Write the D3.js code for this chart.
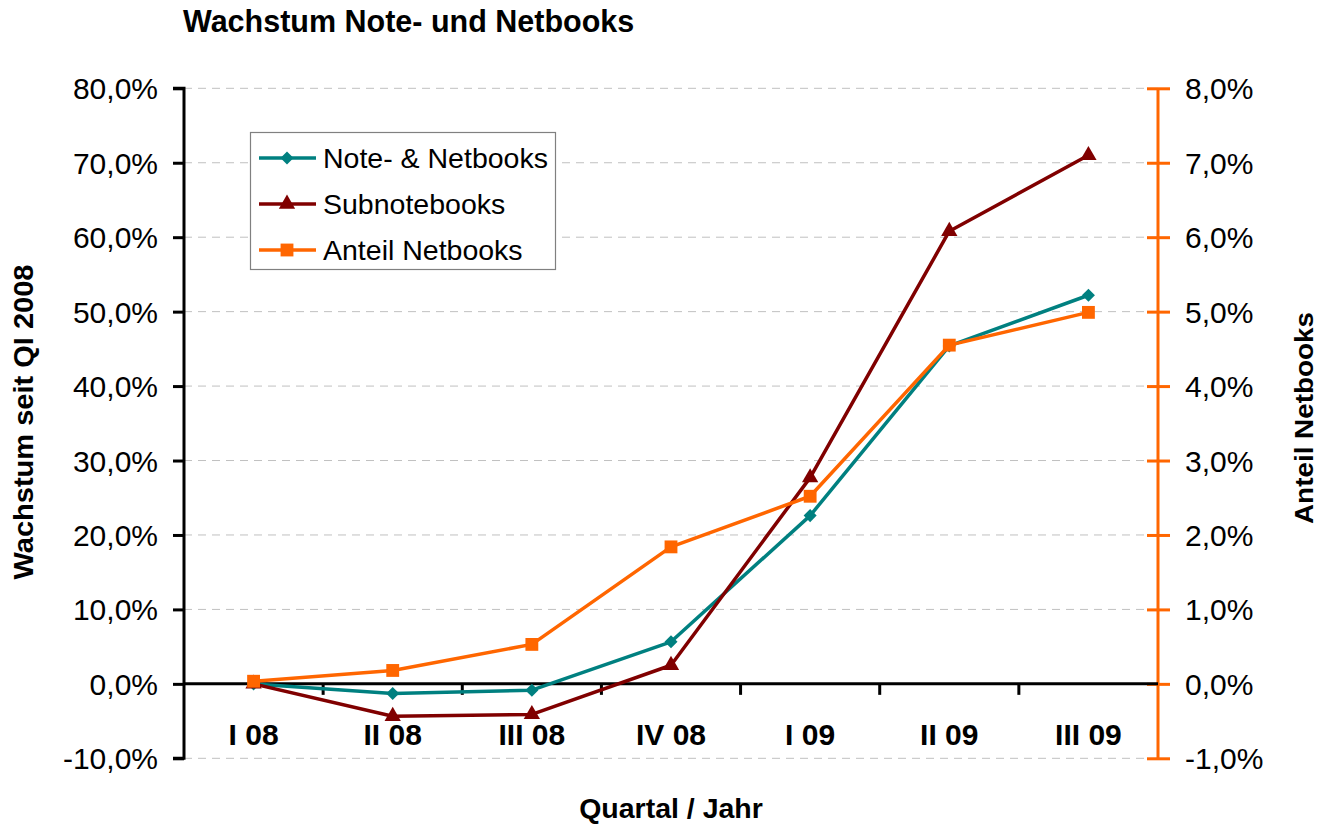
<!DOCTYPE html>
<html><head><meta charset="utf-8">
<script src="https://cdn.jsdelivr.net/npm/d3@7"></script>
<style>
body{margin:0;background:#fff;}
text{font-family:Arial,"Liberation Sans",sans-serif;}
</style></head>
<body>
<svg id="c" width="1321" height="825"></svg>
<script>
const categories = ["I 08","II 08","III 08","IV 08","I 09","II 09","III 09"];
const noteNetbooks = [0.0, -1.3, -0.85, 5.65, 22.6, 45.4, 52.2];
const subnotebooks = [0.0, -4.35, -4.1, 2.5, 27.7, 60.8, 71.0];
const anteilNetbooks = [0.035, 0.18, 0.53, 1.84, 2.52, 4.55, 4.99];
const leftTicks = [-10,0,10,20,30,40,50,60,70,80];
const rightTicks = [-1,0,1,2,3,4,5,6,7,8];
const seriesNames = ["Note- & Netbooks","Subnotebooks","Anteil Netbooks"];

const svg = d3.select("#c");
const L = 184, R = 1158, T = 88.3, B = 758.3;
const x = d3.scaleBand().domain(categories).range([L, R]);
const yL = d3.scaleLinear().domain([-10, 80]).range([B, T]);
const yR = d3.scaleLinear().domain([-1, 8]).range([B, T]);
const fmt = v => (v < 0 ? "-" : "") + Math.abs(v).toFixed(1).replace(".", ",") + "%";
const FONT = "Arial, 'Liberation Sans', sans-serif";

// gridlines
svg.append("g").selectAll("line").data(leftTicks.filter(d => d !== 0)).join("line")
  .attr("x1", L).attr("x2", R).attr("y1", d => yL(d)).attr("y2", d => yL(d))
  .attr("stroke", "#c0c0c0").attr("stroke-width", 1).attr("stroke-dasharray", "8,6");

// left axis
const gl = svg.append("g").attr("transform", `translate(${L},0)`)
  .call(d3.axisLeft(yL).tickValues(leftTicks).tickSize(11).tickPadding(15).tickFormat(fmt));
gl.select(".domain").attr("stroke", "#000").attr("stroke-width", 3).attr("d", `M-11,${B}H0V${T}H-11`);
gl.selectAll(".tick line").attr("stroke", "#000").attr("stroke-width", 3);
gl.selectAll(".tick text").attr("font-size", 30).attr("fill", "#000").attr("font-family", FONT).attr("dy", "0.35em");

// right axis
const gr = svg.append("g").attr("transform", `translate(${R},0)`)
  .call(d3.axisRight(yR).tickValues(rightTicks).tickSize(12).tickPadding(15).tickFormat(fmt));
gr.select(".domain").attr("stroke", "#FF6600").attr("stroke-width", 3).attr("d", `M0,${B}V${T}`);
gr.selectAll(".tick line").attr("stroke", "#FF6600").attr("stroke-width", 3).attr("x1", -11);
gr.selectAll(".tick text").attr("font-size", 30).attr("fill", "#000").attr("font-family", FONT).attr("dy", "0.35em");

// zero line / x axis
const y0 = yL(0);
svg.append("line").attr("x1", L).attr("x2", R).attr("y1", y0).attr("y2", y0)
  .attr("stroke", "#000").attr("stroke-width", 3);
const bounds = categories.slice(1).map(c => x(c));
svg.append("g").selectAll("line").data(bounds).join("line")
  .attr("x1", d => d).attr("x2", d => d).attr("y1", y0).attr("y2", y0 + 11)
  .attr("stroke", "#000").attr("stroke-width", 3);
svg.append("g").selectAll("text").data(categories).join("text")
  .attr("x", d => x(d) + x.bandwidth() / 2).attr("y", 745)
  .attr("text-anchor", "middle").attr("font-size", 30).attr("font-weight", "bold")
  .text(d => d);

// lines
const cx = d => x(d) + x.bandwidth() / 2;
const teal = "#008080", red = "#800000", orange = "#FF6600";
const markers = [
  {type: d3.symbolSquare, size: 85, rot: 45},
  {type: d3.symbolTriangle, size: 115, rot: 0},
  {type: d3.symbolSquare, size: 165, rot: 0}
];
function drawSeries(vals, yScale, color, m) {
  const pts = vals.map((v, i) => [cx(categories[i]), yScale(v)]);
  svg.append("path").attr("d", d3.line()(pts)).attr("fill", "none")
    .attr("stroke", color).attr("stroke-width", 3.5).attr("stroke-linejoin", "round");
  const sym = d3.symbol().type(m.type).size(m.size);
  svg.append("g").selectAll("path").data(pts).join("path")
    .attr("d", sym).attr("transform", d => `translate(${d[0]},${d[1]}) rotate(${m.rot})`).attr("fill", color);
}
drawSeries(noteNetbooks, yL, teal, markers[0]);
drawSeries(subnotebooks, yL, red, markers[1]);
drawSeries(anteilNetbooks, yR, orange, markers[2]);

// legend
const lg = svg.append("g");
lg.append("rect").attr("x", 250.5).attr("y", 132.5).attr("width", 305).attr("height", 137)
  .attr("fill", "#fff").attr("stroke", "#808080").attr("stroke-width", 1.2);
const legColors = [teal, red, orange];
seriesNames.forEach((name, i) => {
  const yy = 158 + i * 46;
  const m = markers[i];
  lg.append("line").attr("x1", 259).attr("x2", 316).attr("y1", yy).attr("y2", yy)
    .attr("stroke", legColors[i]).attr("stroke-width", 3.5);
  lg.append("path").attr("d", d3.symbol().type(m.type).size(m.size)())
    .attr("transform", `translate(287,${yy}) rotate(${m.rot})`).attr("fill", legColors[i]);
  lg.append("text").attr("x", 323).attr("y", yy + 9.5).attr("font-size", 28.5).text(name);
});

// titles
svg.append("text").attr("x", 183).attr("y", 32).attr("font-size", 30.5).attr("font-weight", "bold")
  .text("Wachstum Note- und Netbooks");
svg.append("text").attr("x", 671).attr("y", 818).attr("text-anchor", "middle")
  .attr("font-size", 28.5).attr("font-weight", "bold").text("Quartal / Jahr");
svg.append("text").attr("transform", "translate(33,422) rotate(-90)").attr("text-anchor", "middle")
  .attr("font-size", 28).attr("font-weight", "bold").attr("textLength", 315).attr("lengthAdjust", "spacingAndGlyphs")
  .text("Wachstum seit QI 2008");
svg.append("text").attr("transform", "translate(1313,418) rotate(-90)").attr("text-anchor", "middle")
  .attr("font-size", 26.5).attr("font-weight", "bold").attr("textLength", 212).attr("lengthAdjust", "spacingAndGlyphs")
  .text("Anteil Netbooks");
</script>
</body></html>
